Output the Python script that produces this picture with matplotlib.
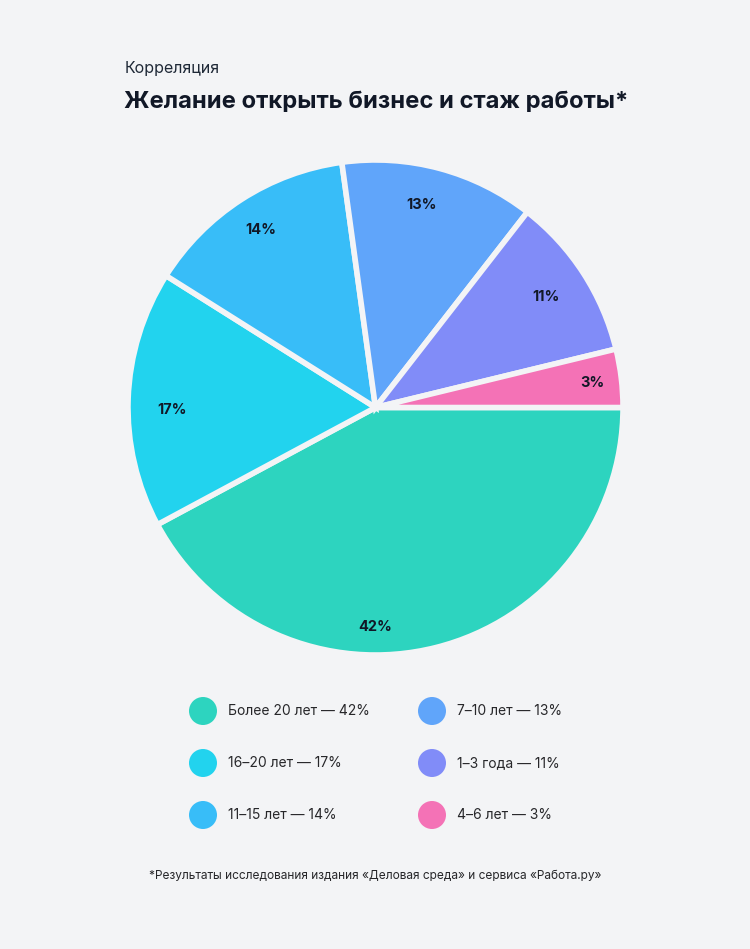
import numpy as np
import matplotlib
matplotlib.use("Agg")
import matplotlib.pyplot as plt
from matplotlib.patches import Circle

plt.rcParams['font.family'] = ['Inter', 'DejaVu Sans']

categories = ["Более 20 лет", "16–20 лет", "11–15 лет", "7–10 лет", "1–3 года", "4–6 лет"]
percent_labels = [42, 17, 14, 13, 11, 3]
# slice sizes as drawn in the reference (small slice is drawn slightly larger)
slice_sizes = [42.2, 16.8, 13.9, 12.7, 10.7, 3.8]
colors = ["#2DD4BF", "#22D3EE", "#38BDF8", "#60A5FA", "#818CF8", "#F472B6"]
label_r = [0.887, 0.82, 0.855, 0.84, 0.82, 0.88]
label_shift_deg = [0, 2.6, 0, 2.1, 0, -0.5]

BG = "#F3F4F6"
W, H = 750, 949
PX = 72 / 100  # px -> pt

fig = plt.figure(figsize=(W / 100, H / 100), dpi=100, facecolor=BG)

# pie axes
cx, cy, R = 375.5, 407.5, 247.5
ax = fig.add_axes([(cx - R) / W, 1 - (cy + R) / H, 2 * R / W, 2 * R / H])
ax.set_facecolor(BG)
ax.axis("off")
wedges, _ = ax.pie(slice_sizes, colors=colors, startangle=0, counterclock=False,
                   radius=1, wedgeprops=dict(edgecolor=BG, linewidth=4))
ax.set_xlim(-1, 1)
ax.set_ylim(-1, 1)
ax.set_aspect("equal")

total = sum(slice_sizes)
start = 0.0
for i, (s, lab) in enumerate(zip(slice_sizes, percent_labels)):
    span = 360 * s / total
    mid = start - span / 2 + label_shift_deg[i]
    if i == 0:
        mid = -90  # big slice label sits at bottom in the reference
    a = np.deg2rad(mid)
    ax.text(label_r[i] * np.cos(a), label_r[i] * np.sin(a), f"{lab}%",
            ha="center", va="center", fontsize=14.5 * PX, fontweight="bold",
            color="#111827")
    start -= span

# titles
fig.text(125 / W, 1 - 69 / H, "Корреляция", fontsize=16 * PX, color="#1F2937",
         ha="left", va="center")
fig.text(124 / W, 1 - 102 / H, "Желание открыть бизнес и стаж работы*",
         fontsize=23.8 * PX, fontweight="bold", color="#111827", ha="left", va="center")

# legend
lax = fig.add_axes([0, 0, 1, 1])
lax.set_xlim(0, W)
lax.set_ylim(H, 0)
lax.axis("off")
col_x = [203, 432]
row_y = [711, 763, 815]
for i, (cat, lab, c) in enumerate(zip(categories, percent_labels, colors)):
    col, row = divmod(i, 3)
    x, y = col_x[col], row_y[row]
    lax.add_patch(Circle((x, y), 14, color=c, lw=0))
    lax.text(x + 25, y, f"{cat} — {lab}%", fontsize=13.9 * PX, color="#27272A",
             ha="left", va="center")

fig.text(0.5, 1 - 876 / H,
         "*Результаты исследования издания «Деловая среда» и сервиса «Работа.ру»",
         fontsize=11.9 * PX, color="#27272A", ha="center", va="center")

fig.savefig("out.png", dpi=100, facecolor=BG)
